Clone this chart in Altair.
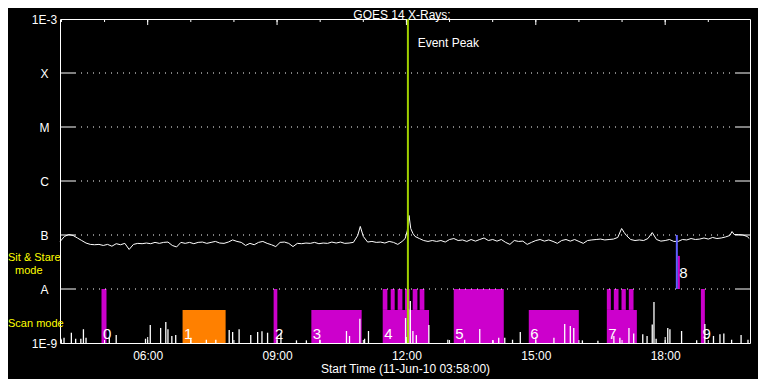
import altair as alt
import pandas as pd

# ---------------- data ----------------
title_text = "GOES 14 X-Rays:"
x_axis_title = "Start Time (11-Jun-10 03:58:00)"
time_start_h = 3.9667   # 03:58
time_end_h = 19.9667    # 19:58
x_label_hours = [6, 9, 12, 15, 18]
x_label_text = ["06:00", "09:00", "12:00", "15:00", "18:00"]
hour_ticks = [4, 5, 6, 7, 8, 9, 10, 11, 12, 13, 14, 15, 16, 17, 18, 19]

y_tick_exp = [-9, -8, -7, -6, -5, -4, -3]
y_tick_values = [1e-9, 1e-8, 1e-7, 1e-6, 1e-5, 1e-4, 1e-3]
y_tick_labels = ["1E-9", "A", "B", "C", "M", "X", "1E-3"]
class_levels = [1e-8, 1e-7, 1e-6, 1e-5, 1e-4]

# GOES long channel (1-8 A), hours / flux in 1e-8 W m^-2
lo_hours = [3.97, 4.07, 4.17, 4.27, 4.37, 4.47, 4.57, 4.67, 4.77, 4.87,
            4.97, 5.07, 5.17, 5.27, 5.37, 5.47, 5.57, 5.67, 5.77, 5.87,
            5.97, 6.07, 6.17, 6.27, 6.37, 6.47, 6.57, 6.67, 6.77, 6.87,
            6.97, 7.07, 7.17, 7.27, 7.37, 7.47, 7.57, 7.67, 7.77, 7.87,
            7.97, 8.07, 8.17, 8.27, 8.37, 8.47, 8.57, 8.67, 8.77, 8.87,
            8.97, 9.07, 9.17, 9.27, 9.37, 9.47, 9.57, 9.67, 9.77, 9.87,
            9.97, 10.07, 10.17, 10.27, 10.37, 10.47, 10.57, 10.67, 10.77,
            10.87, 10.93, 11.0, 11.1, 11.2, 11.3, 11.4, 11.5, 11.6, 11.7,
            11.8, 11.9, 11.97, 12.02, 12.06, 12.1, 12.15, 12.2, 12.3, 12.4,
            12.5, 12.6, 12.7, 12.8, 12.9, 13.0, 13.1, 13.2, 13.3, 13.4,
            13.5, 13.6, 13.7, 13.8, 13.9, 14.0, 14.1, 14.2, 14.3, 14.4,
            14.5, 14.6, 14.7, 14.8, 14.9, 15.0, 15.1, 15.2, 15.3, 15.4,
            15.5, 15.6, 15.7, 15.8, 15.9, 16.0, 16.1, 16.2, 16.3, 16.4,
            16.5, 16.6, 16.7, 16.8, 16.9, 16.99, 17.05, 17.1, 17.2, 17.3,
            17.4, 17.5, 17.6, 17.7, 17.8, 17.9, 18.0, 18.1, 18.2, 18.3,
            18.4, 18.5, 18.6, 18.7, 18.8, 18.9, 19.0, 19.1, 19.2, 19.3,
            19.4, 19.5, 19.55, 19.6, 19.7, 19.8, 19.9, 19.95]
lo_flux_e8 = [7.6, 9.4, 10.2, 9.8, 8.8, 7.9, 7.1, 6.7, 6.6, 6.7,
              6.4, 6.7, 6.2, 6.9, 6.6, 7.0, 5.4, 6.7, 7.0, 6.9,
              7.1, 6.9, 7.3, 7.0, 7.3, 7.4, 6.4, 6.0, 7.3, 7.0,
              7.3, 6.9, 7.3, 7.4, 7.0, 7.3, 7.6, 7.1, 7.0, 7.4,
              8.1, 7.6, 7.3, 6.4, 7.0, 6.6, 7.3, 7.6, 7.0, 6.6,
              6.1, 7.3, 7.4, 7.0, 6.1, 7.0, 6.9, 7.1, 7.0, 7.3,
              6.9, 7.1, 7.0, 7.4, 7.1, 7.4, 7.0, 7.1, 7.3,
              9.8, 14.4, 9.4, 7.4, 7.6, 7.3, 7.4, 7.1, 7.6, 7.3,
              6.7, 7.6, 8.6, 12.0, 23.0, 13.2, 10.7, 9.4, 8.6, 7.9,
              7.6, 7.9, 7.6, 7.9, 7.4, 8.25, 8.6, 7.9, 8.1, 7.6,
              8.25, 7.7, 8.25, 8.8, 7.9, 8.25, 7.7, 8.25, 7.3, 6.7,
              7.9, 7.6, 7.7, 6.7, 7.3, 7.9, 8.25, 7.7, 8.1, 7.6,
              7.0, 7.9, 8.25, 7.7, 8.25, 7.6, 7.0, 7.9, 8.1, 8.25,
              8.4, 8.1, 8.25, 8.4, 9.0, 13.2, 11.1, 9.8, 8.25, 7.9,
              8.1, 7.9, 8.6, 11.1, 8.25, 7.7, 7.9, 8.25, 7.6, 7.6,
              8.25, 8.1, 8.6, 8.25, 8.4, 8.8, 8.4, 9.0, 8.6, 8.8,
              9.2, 9.8, 11.6, 10.2, 10.2, 10.0, 9.4, 8.6]

# GOES short channel (0.5-4 A) bursts above the 1E-9 floor, flux in 1e-9 W m^-2
hi_hours = [3.99, 4.06, 4.23, 4.33, 4.45, 4.51, 4.57, 5.11, 5.27, 5.95,
            6.06, 6.30, 6.42, 6.47, 6.56, 6.65, 7.00, 7.36, 7.58, 7.89,
            7.97, 8.12, 8.39, 8.55, 8.65, 8.78, 9.09, 9.45, 9.68, 9.99,
            10.61, 10.68, 10.92, 11.03, 11.12, 11.98, 12.05, 12.09, 12.15, 12.23,
            12.52, 12.96, 13.35, 13.70, 14.01, 14.14, 14.28, 14.46, 14.64, 15.42,
            15.67, 15.80, 15.88, 16.08, 16.44, 16.81, 16.95, 17.16, 17.27, 17.48,
            17.58, 17.70, 17.74, 17.79, 18.06, 18.11, 18.38, 18.73, 18.92, 19.12,
            19.27, 19.36, 19.54, 19.76, 19.92]
hi_flux_e9 = [1.2, 1.25, 1.55, 1.2, 1.2, 1.8, 1.25, 1.25, 1.4, 1.2,
              2.15, 1.9, 2.45, 1.8, 1.35, 1.4, 1.25, 1.15, 1.15, 1.75,
              1.6, 1.8, 1.4, 1.6, 1.65, 1.55, 1.55, 1.12, 1.12, 1.15,
              1.67, 1.35, 2.8, 1.2, 1.67, 2.9, 4.3, 6.0, 1.67, 1.4,
              2.15, 1.15, 1.15, 1.82, 1.12, 1.25, 1.25, 1.15, 1.6, 1.25,
              2.25, 2.07, 1.9, 1.12, 1.1, 1.35, 1.25, 1.9, 1.5, 1.45,
              1.35, 2.2, 5.75, 1.2, 1.9, 1.8, 1.67, 1.12, 2.25, 1.35,
              1.45, 1.5, 1.15, 1.4, 1.15]

# observing blocks (hours), bottom/top in W m^-2
block_id = ["0", "1", "2", "3", "4", "5", "6", "7", "8", "9"]
block_start = [4.929, 6.809, 8.920, 9.795, 11.450, 13.097, 14.837, 16.647, 18.294, 18.828]
block_end = [5.045, 7.807, 9.006, 10.962, 12.524, 14.257, 15.997, 17.343, 18.340, 18.920]
block_bottom = [1e-9, 1e-9, 1e-9, 1e-9, 1e-9, 1e-9, 1e-9, 1e-9, 1e-8, 1e-9]
block_top = [1e-8, 4.1e-9, 1e-8, 4.1e-9, 4.1e-9, 1e-8, 4.1e-9, 4.1e-9, 4.1e-8, 1e-8]
block_color = ["#cc00cc", "#ff8000", "#cc00cc", "#cc00cc", "#cc00cc",
               "#cc00cc", "#cc00cc", "#cc00cc", "#cc00cc", "#cc00cc"]
block_label_y = [1.2e-9, 1.2e-9, 1.2e-9, 1.2e-9, 1.2e-9, 1.2e-9, 1.2e-9, 1.2e-9, 1.6e-8, 1.2e-9]

# raster teeth inside blocks 4 and 7
tooth_start = [11.450, 11.635, 11.797, 11.967, 12.145, 12.307, 16.647, 16.809, 16.987, 17.157]
tooth_end = [11.558, 11.728, 11.906, 12.076, 12.254, 12.416, 16.740, 16.918, 17.087, 17.266]
tooth_bottom = [4.1e-9] * 10
tooth_top = [1e-8] * 10

event_hour = [12.034]
event_label = ["Event Peak"]
event_label_hour = [12.26]
event_label_flux = [3.64e-4]

stare_hour = [18.27]
stare_lo = [1e-8]
stare_hi = [1e-7]

mode_text = ["Sit & Stare", "Scan mode"]
mode_flux = [3.76e-8, 2.25e-9]
mode2_text = ["mode"]
mode2_flux = [2.2e-8]

# ---------------- chart ----------------
FONT = "Liberation Sans"
WHITE = "#ffffff"
YELLOW = "#ffff00"

assert len(lo_hours) == len(lo_flux_e8)
assert len(hi_hours) == len(hi_flux_e9)

lo_df = pd.DataFrame({"hour": lo_hours, "flux": [v * 1e-8 for v in lo_flux_e8]})
hi_df = pd.DataFrame({"hour": hi_hours, "flux": [v * 1e-9 for v in hi_flux_e9]})
blocks_df = pd.DataFrame({"id": block_id, "start": block_start, "end": block_end,
                          "bottom": block_bottom, "top": block_top,
                          "color": block_color, "label_y": block_label_y})
teeth_df = pd.DataFrame({"start": tooth_start, "end": tooth_end,
                         "bottom": tooth_bottom, "top": tooth_top})
levels_df = pd.DataFrame({"level": class_levels})
hours_df = pd.DataFrame({"hour": hour_ticks})
major_df = pd.DataFrame({"hour": x_label_hours})
event_df = pd.DataFrame({"hour": event_hour})
event_txt_df = pd.DataFrame({"hour": event_label_hour, "flux": event_label_flux, "t": event_label})
stare_df = pd.DataFrame({"hour": stare_hour, "lo": stare_lo, "hi": stare_hi})
mode_df = pd.DataFrame({"t": mode_text, "flux": mode_flux})
mode2_df = pd.DataFrame({"t": mode2_text, "flux": mode2_flux})
title_df = pd.DataFrame({"t": [title_text]})

x_expr = " : ".join(f"datum.value == {h} ? '{t}'" for h, t in zip(x_label_hours, x_label_text)) + " : ''"
y_expr = " : ".join(f"round(log(datum.value)/LN10) == {e} ? '{t}'" for e, t in zip(y_tick_exp, y_tick_labels)) + " : ''"

x_scale = alt.Scale(domain=[time_start_h, time_end_h], nice=False, zero=False)
y_scale = alt.Scale(type="log", domain=[1e-9, 1e-3], nice=False)

x_axis = alt.Axis(values=x_label_hours, labelExpr=x_expr, title=x_axis_title,
                  domain=False, ticks=False, tickSize=0, grid=False,
                  labelPadding=12, labelBaseline="middle", labelFontSize=12,
                  labelColor=WHITE, labelFont=FONT, labelFlush=False, labelOverlap=False,
                  titleY=25, titleBaseline="middle", titleFontSize=12,
                  titleFontWeight="normal", titleColor=WHITE, titleFont=FONT)
y_axis = alt.Axis(values=y_tick_values, labelExpr=y_expr, title="",
                  domain=False, ticks=False, tickSize=0, grid=False,
                  labelPadding=16, labelAlign="center", labelBaseline="middle",
                  labelFontSize=12, labelColor=WHITE, labelFont=FONT,
                  labelFlush=False, labelOverlap=False)


def X(field):
    return alt.X(f"{field}:Q", scale=x_scale, axis=x_axis)


def Y(field):
    return alt.Y(f"{field}:Q", scale=y_scale, axis=y_axis)


blocks = alt.Chart(blocks_df).mark_rect(strokeWidth=0).encode(
    x=X("start"), x2=alt.X2("end:Q"), y=Y("bottom"), y2=alt.Y2("top:Q"),
    color=alt.Color("color:N", scale=None))
teeth = alt.Chart(teeth_df).mark_rect(color="#cc00cc", strokeWidth=0).encode(
    x=X("start"), x2=alt.X2("end:Q"), y=Y("bottom"), y2=alt.Y2("top:Q"))

grid = alt.Chart(levels_df).mark_rule(color=WHITE, strokeWidth=1, strokeDash=[1, 5]).encode(
    x=alt.value(15), x2=alt.value(675), y=Y("level"))
lticks = alt.Chart(levels_df).mark_rule(color=WHITE, strokeWidth=1).encode(
    x=alt.value(0), x2=alt.value(15), y=Y("level"))
rticks = alt.Chart(levels_df).mark_rule(color=WHITE, strokeWidth=1).encode(
    x=alt.value(675), x2=alt.value(690), y=Y("level"))
tticks = alt.Chart(hours_df).mark_rule(color=WHITE, strokeWidth=1).encode(
    x=X("hour"), y=alt.value(0), y2=alt.value(3))
tticks_major = alt.Chart(major_df).mark_rule(color=WHITE, strokeWidth=1).encode(
    x=X("hour"), y=alt.value(0), y2=alt.value(6))
bticks = alt.Chart(hours_df).mark_rule(color=WHITE, strokeWidth=1).encode(
    x=X("hour"), y=alt.value(324), y2=alt.value(321))
bticks_major = alt.Chart(major_df).mark_rule(color=WHITE, strokeWidth=1).encode(
    x=X("hour"), y=alt.value(324), y2=alt.value(318))

lo_line = alt.Chart(lo_df).mark_line(color=WHITE, strokeWidth=1).encode(
    x=X("hour"), y=Y("flux"))
hi_spikes = alt.Chart(hi_df).mark_rule(color=WHITE, strokeWidth=1.3).encode(
    x=X("hour"), y=Y("flux"), y2=alt.value(324))

block_labels = alt.Chart(blocks_df).mark_text(
    align="left", baseline="alphabetic", dx=1.5, font=FONT, fontSize=15, color=WHITE).encode(
    x=X("start"), y=Y("label_y"), text="id:N")

stare_line = alt.Chart(stare_df).mark_rule(color="#6060ff", strokeWidth=2).encode(
    x=X("hour"), y=Y("lo"), y2=alt.Y2("hi:Q"))
event_line = alt.Chart(event_df).mark_rule(color="#a0d000", strokeWidth=2).encode(
    x=X("hour"), y=alt.value(0), y2=alt.value(324))
event_text = alt.Chart(event_txt_df).mark_text(
    align="left", baseline="middle", font=FONT, fontSize=12, color=WHITE).encode(
    x=X("hour"), y=Y("flux"), text="t:N")

mode_labels = alt.Chart(mode_df).mark_text(
    align="left", baseline="middle", font=FONT, fontSize=11, color=YELLOW).encode(
    x=alt.value(-52), y=Y("flux"), text="t:N")
mode2_labels = alt.Chart(mode2_df).mark_text(
    align="left", baseline="middle", font=FONT, fontSize=11, color=YELLOW).encode(
    x=alt.value(-45), y=Y("flux"), text="t:N")

# chart title, drawn just above the frame (the page margin leaves no room higher up)
title_mark = alt.Chart(title_df).mark_text(
    align="center", baseline="middle", font=FONT, fontSize=12, color=WHITE).encode(
    x=alt.value(342), y=alt.value(-4.5), text="t:N")

chart = alt.layer(
    blocks, teeth, grid, lticks, rticks, tticks, tticks_major, bticks, bticks_major,
    lo_line, hi_spikes, block_labels, stare_line, event_line, event_text,
    mode_labels, mode2_labels, title_mark,
).properties(
    width=690, height=324,
    padding={"left": 52, "top": 11, "right": 8, "bottom": 36},
    autosize=alt.AutoSizeParams(type="none"),
).configure(background="black").configure_view(stroke=WHITE, strokeWidth=1, fill="black")

chart.save("out.html", embed_options={"renderer": "svg", "actions": False})
